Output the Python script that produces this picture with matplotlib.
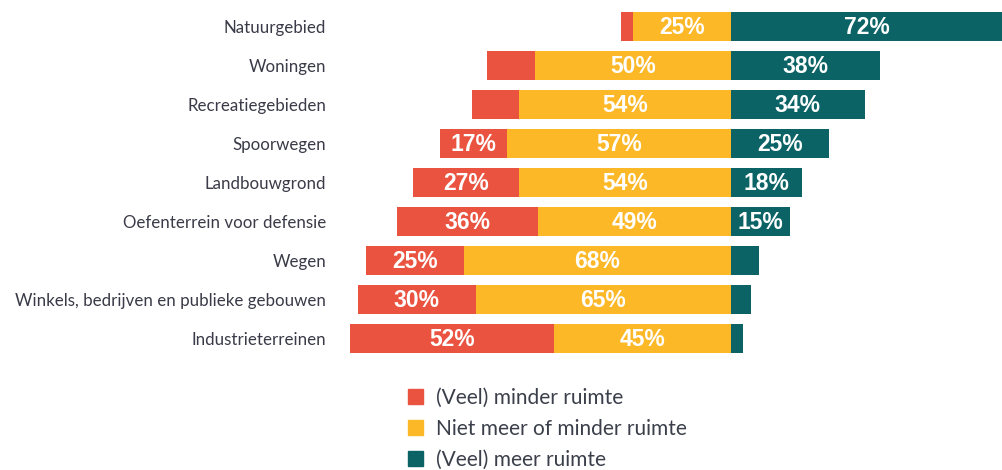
import numpy as np
import matplotlib.pyplot as plt
from matplotlib.patches import Patch

categorieen = ["Natuurgebied", "Woningen", "Recreatiegebieden", "Spoorwegen",
               "Landbouwgrond", "Oefenterrein voor defensie", "Wegen",
               "Winkels, bedrijven en publieke gebouwen", "Industrieterreinen"]
minder = [3, 12, 12, 17, 27, 36, 25, 30, 52]
neutraal = [25, 50, 54, 57, 54, 49, 68, 65, 45]
meer = [72, 38, 34, 25, 18, 15, 7, 5, 3]

reeksen = ["(Veel) minder ruimte", "Niet meer of minder ruimte", "(Veel) meer ruimte"]
kleuren = ["#EA5340", "#FDB827", "#0B6366"]

fig = plt.figure(figsize=(10.03, 4.70), dpi=100)
ax = fig.add_axes([340 / 1003, 1 - 358 / 470, 663 / 1003, 351 / 470])

y = np.arange(len(categorieen))
minder = np.array(minder)
neutraal = np.array(neutraal)
meer = np.array(meer)

xmin, xmax = (340 - 731) / 3.93, (1003 - 731) / 3.93

links_neutraal = -neutraal
links_minder = -neutraal - minder
h = 0.76
ax.barh(y, minder, left=links_minder, height=h, color=kleuren[0])
ax.barh(y, neutraal, left=links_neutraal, height=h, color=kleuren[1])
ax.barh(y, meer, left=0, height=h, color=kleuren[2])

# labels in de balken
def label(waarden, starts):
    for i, (w, s) in enumerate(zip(waarden, starts)):
        if w >= 15:
            mid = (s + min(s + w, xmax)) / 2
            ax.text(mid, i + 0.03, f"{w}%", ha="center", va="center", color="white",
                    fontsize=16.5, fontweight="bold", family="Liberation Sans")

label(minder, links_minder)
label(neutraal, links_neutraal)
label(meer, np.zeros(len(meer)))

ax.set_xlim(xmin, xmax)
ax.set_ylim(len(categorieen) - 0.5, -0.5)
ax.set_xticks([])
ax.set_yticks(y)
ax.set_yticklabels(categorieen, family="Lato", fontsize=12.2, color="#3a3a48")
ax.tick_params(axis="y", length=0, pad=10)
for s in ax.spines.values():
    s.set_visible(False)

handles = [Patch(color=k, label=r) for k, r in zip(kleuren, reeksen)]
fig.legend(handles=handles, loc="upper left", bbox_to_anchor=(408 / 1003, 1 - 388 / 470),
           frameon=False, prop={"family": "Lato", "size": 15}, labelcolor="#3a3f4a",
           handlelength=0.72, handleheight=0.72, handletextpad=0.6, labelspacing=0.52,
           borderaxespad=0, borderpad=0)

fig.savefig("out.png", dpi=100)
